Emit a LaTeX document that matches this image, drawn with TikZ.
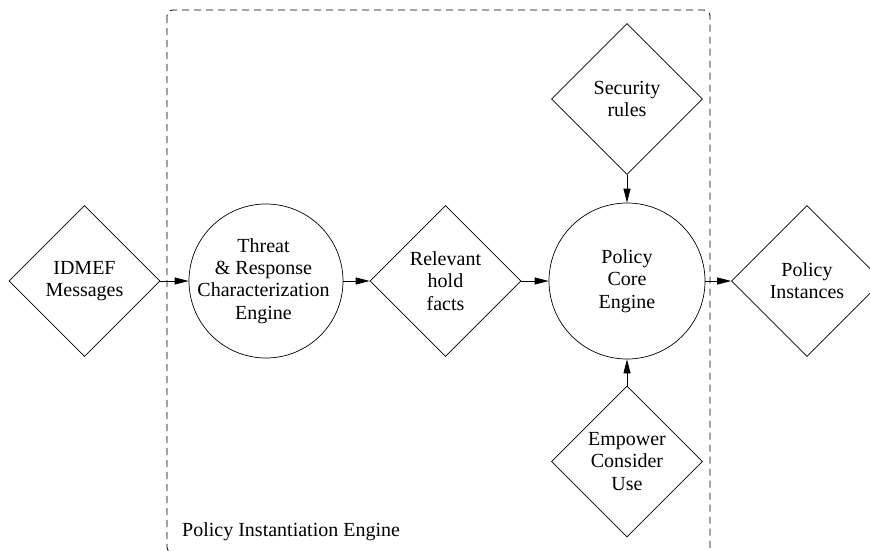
\documentclass[tikz,border=0pt]{standalone}
\usepackage{fontspec}
\setmainfont{Liberation Serif}
\usetikzlibrary{shapes.geometric,arrows.meta}
\begin{document}
\begin{tikzpicture}[x=1pt,y=-1pt,
  every node/.style={font=\fontsize{20}{22.3}\selectfont},
  dec/.style={draw, diamond, aspect=1, minimum width=151pt, minimum height=151pt,
              inner sep=0pt, align=center, line width=0.7pt},
  proc/.style={draw, circle, minimum size=154pt, inner sep=0pt, line width=0.7pt},
  txt/.style={align=center, inner sep=0pt},
  flow/.style={-{Triangle[length=14pt,width=7pt]}, line width=0.7pt},
  frame/.style={dash pattern=on 7pt off 5pt, rounded corners=6pt, line width=0.8pt}]
\useasboundingbox (0,0) rectangle (870,550);

% enclosing engine boundary, its lower edge running just past the page
\draw[frame] (167,10) rectangle (710,553);
\node[anchor=base west, inner sep=0pt] (pie) at (182,536) {Policy Instantiation Engine};

% inputs, stores and outputs
\node[dec] (idmef) at (84.5,281) {IDMEF\\Messages};
\node[dec] (facts) at (445.5,281) {Relevant\\hold\\facts};
\node[dec] (inst)  at (807,281) {Policy\\Instances};
\node[dec] (sec)   at (627,99) {Security\\rules};
\node[dec] (emp)   at (627,461.5) {Empower\\Consider\\Use};

% processing engines
\node[proc] (threat) at (266,281) {};
\node[txt] (threat-t) at (263.5,281) {Threat\\\& Response\\Characterization\\Engine};
\node[proc, minimum size=156pt] (core) at (627,281) {};
\node[txt] (core-t) at (627,281) {Policy\\Core\\Engine};

% data flow
\draw[flow] (idmef.east) -- (threat.west);
\draw[flow] (threat.east) -- (facts.west);
\draw[flow] (facts.east) -- (core.west);
\draw[flow] (core.east) -- (inst.west);
\draw[flow] (sec.south) -- (core.north);
\draw[flow] (emp.north) -- (core.south);
\end{tikzpicture}
\end{document}
